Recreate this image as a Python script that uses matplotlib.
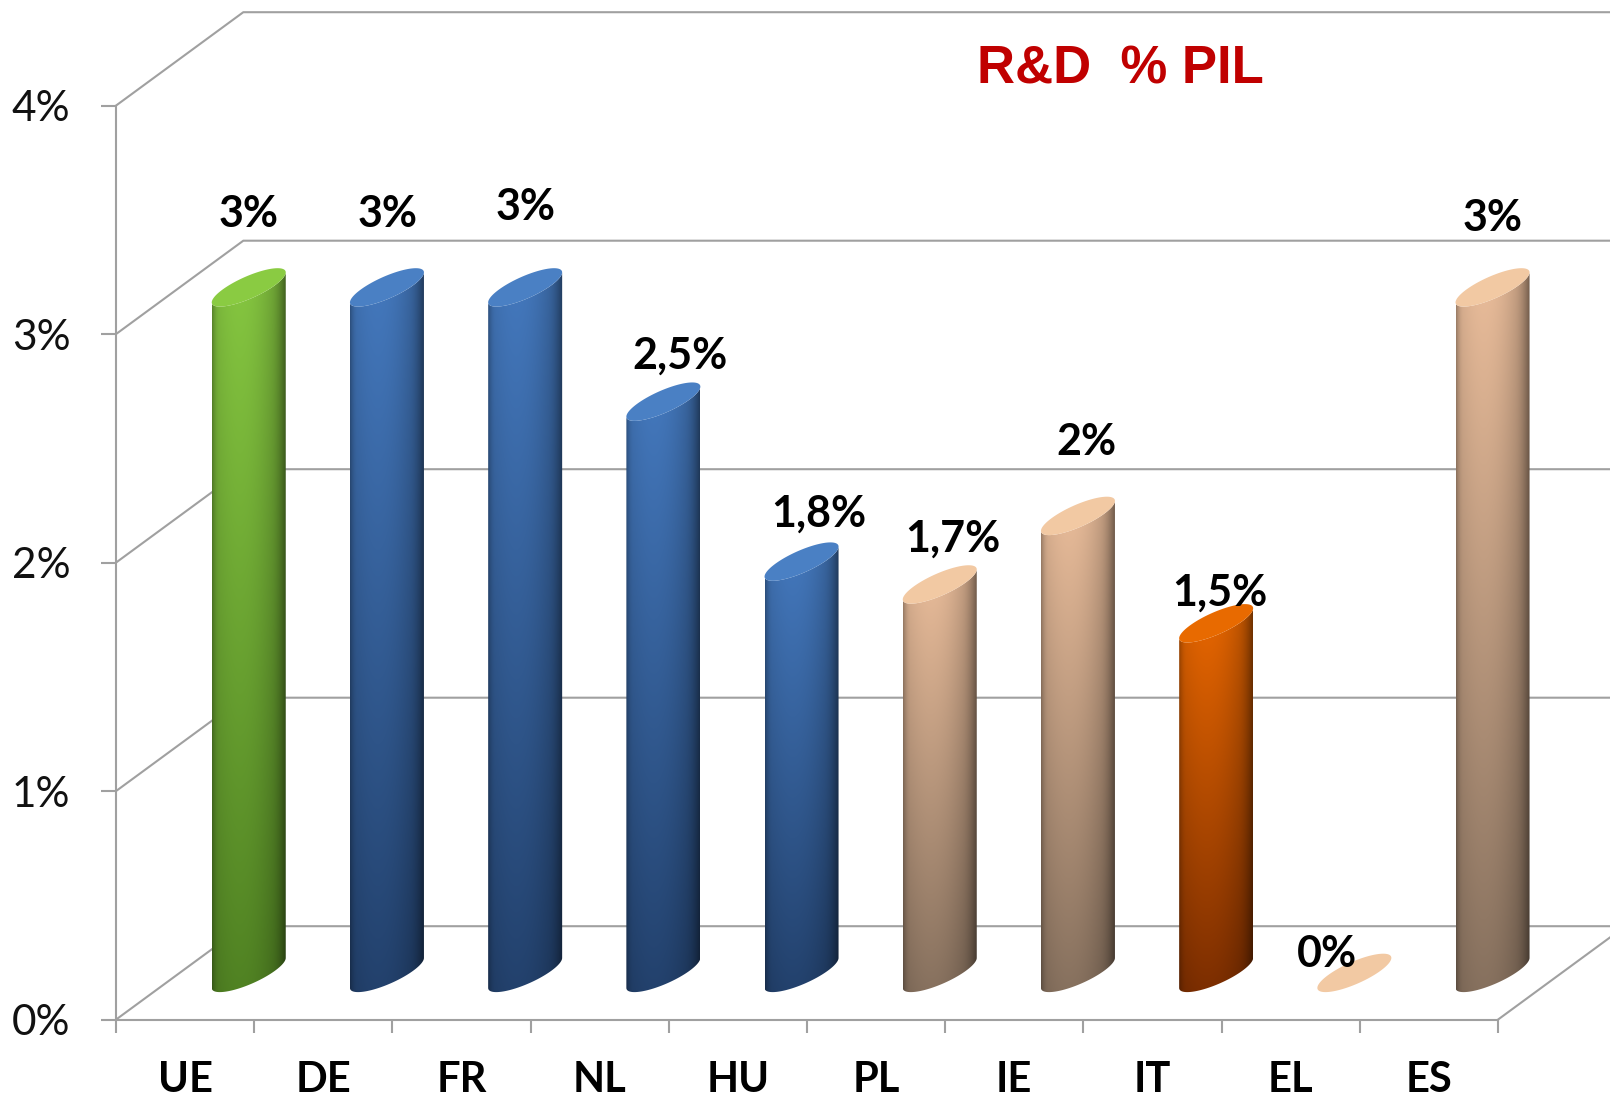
import numpy as np
import matplotlib
matplotlib.use('Agg')
import matplotlib.pyplot as plt
from matplotlib.patches import PathPatch, Polygon
from matplotlib.path import Path
import matplotlib.colors as mcolors

plt.rcParams['font.family'] = ['Lato', 'DejaVu Sans']

# data
countries = ["UE", "DE", "FR", "NL", "HU", "PL", "IE", "IT", "EL", "ES"]
values = [3.0, 3.0, 3.0, 2.5, 1.8, 1.7, 2.0, 1.53, 0.0, 3.0]
value_labels = ["3%", "3%", "3%", "2,5%", "1,8%", "1,7%", "2%", "1,5%", "0%", "3%"]
groups = ["green", "blue", "blue", "blue", "blue", "tan", "tan", "orange", "tan", "tan"]
ytick_vals = [0, 1, 2, 3, 4]
ytick_labels = ["0%", "1%", "2%", "3%", "4%"]
title = "R&D  % PIL"

# styling
palette = {  # body top, body bottom, cap
    "green": ("#7cb83c", "#4a7820", "#8acb42"),
    "blue": ("#3f70b0", "#203c64", "#4a80c4"),
    "tan": ("#d9af8f", "#7c6857", "#f2c9a3"),
    "orange": ("#d86000", "#722a00", "#e86a00"),
}
# label offsets in pixels (dx, height of cap centre above bar top)
label_off = [(0, 75), (1, 75), (0, 82), (17, 48), (17, 50),
             (13, 48), (8, 76), (4, 33), (-27, 21), (0, 71)]
GRID = "#a0a0a0"

W, H = 1610, 1100
fig = plt.figure(figsize=(W / 100, H / 100), dpi=100)
ax = fig.add_axes([0, 0, 1, 1])

X0, Y0 = 116, 1019.6          # front origin in px
CAT_PX, PCT_PX = 138.2, 228.5  # px per category / per 1%
ax.set_xlim(-X0 / CAT_PX, (W - X0) / CAT_PX)
ax.set_ylim(-(H - Y0) / PCT_PX, Y0 / PCT_PX)

DX, DY = 127.3 / CAT_PX, 93.4 / PCT_PX   # depth of the 3d box
R = 37 / CAT_PX                          # cylinder half width
S, T = 15 / PCT_PX, 12 / PCT_PX          # ellipse shear / minor

n = len(countries)
ymax = ytick_vals[-1]

# walls
for v in ytick_vals:
    ax.plot([0, DX, n + DX], [v, v + DY, v + DY], color=GRID, lw=1.5, zorder=1)
ax.plot([n, n + DX], [0, DY], color=GRID, lw=1.5, zorder=1)

# axes
for side in ["top", "right"]:
    ax.spines[side].set_visible(False)
for side in ["left", "bottom"]:
    ax.spines[side].set_position(("data", 0))
    ax.spines[side].set_color(GRID)
    ax.spines[side].set_linewidth(1.5)
ax.spines["left"].set_bounds(0, ymax)
ax.spines["bottom"].set_bounds(0, n)
ax.set_facecolor("white")

ax.set_yticks(ytick_vals, ytick_labels)
ax.tick_params(axis="y", direction="out", length=10.8, width=1.5, color=GRID,
               pad=22, labelsize=30.5, labelcolor="#111111")
ax.set_xticks(np.arange(n + 1), [""] * (n + 1))
ax.set_xticks(np.arange(n) + 0.5, countries, minor=True)
ax.tick_params(axis="x", which="major", direction="out", length=9.4, width=1.5, color=GRID)
ax.tick_params(axis="x", which="minor", length=0, pad=30, labelsize=30, labelcolor="black")
for lab in ax.get_xticklabels(minor=True):
    lab.set_fontweight("bold")


def shade(u):
    m = 1.08 - 0.35 * ((u + 0.25) / 1.25) ** 2
    m -= 0.2 * np.clip((u - 0.6) / 0.4, 0, 1) ** 2
    m -= 0.22 * np.clip((-u - 0.8) / 0.2, 0, 1) ** 2
    return m


def ellipse_pts(cx, cy, t):
    return np.column_stack([cx + R * np.cos(t), cy + S * np.cos(t) + T * np.sin(t)])


for i, (v, g) in enumerate(zip(values, groups)):
    cx = i + 0.5 + DX / 2
    base = DY / 2
    top = v + DY / 2
    ctop, cbot, ccap = (np.array(mcolors.to_rgb(c)) for c in palette[g])

    t = np.linspace(np.pi, 2 * np.pi, 80)
    verts = np.vstack([ellipse_pts(cx, base, t), ellipse_pts(cx, top, t[::-1])])
    body = PathPatch(Path(verts, closed=True), transform=ax.transData,
                     facecolor="none", edgecolor="none")
    ax.add_patch(body)

    lo = base - np.hypot(S, T) - 0.01
    hi = top + np.hypot(S, T) + 0.01
    u = np.linspace(-1, 1, 120)
    f = np.linspace(0, 1, 200)[:, None, None]
    col = cbot + (ctop - cbot) * f
    img = np.clip(col * shade(u)[None, :, None], 0, 1)
    im = ax.imshow(img, extent=[cx - R, cx + R, lo, hi], origin="lower",
                   aspect="auto", interpolation="bilinear", zorder=3)
    im.set_clip_path(body)

    tt = np.linspace(0, 2 * np.pi, 120)
    ax.add_patch(Polygon(ellipse_pts(cx, top, tt), closed=True, facecolor=ccap,
                         edgecolor="none", zorder=4))

    dx, dy = label_off[i]
    ax.annotate(value_labels[i], (cx, top), xytext=(dx, dy - 15),
                textcoords="offset pixels", ha="center", va="baseline",
                fontsize=31, fontweight="bold", color="black", zorder=5)

fig.text(1120 / W, 1 - 83 / H, title, color="#c00000", fontsize=38,
         fontweight="bold", family=["Liberation Sans", "DejaVu Sans"],
         ha="center", va="baseline")

ax.set_xlim(-X0 / CAT_PX, (W - X0) / CAT_PX)
ax.set_ylim(-(H - Y0) / PCT_PX, Y0 / PCT_PX)
fig.savefig("out.png", dpi=100)
